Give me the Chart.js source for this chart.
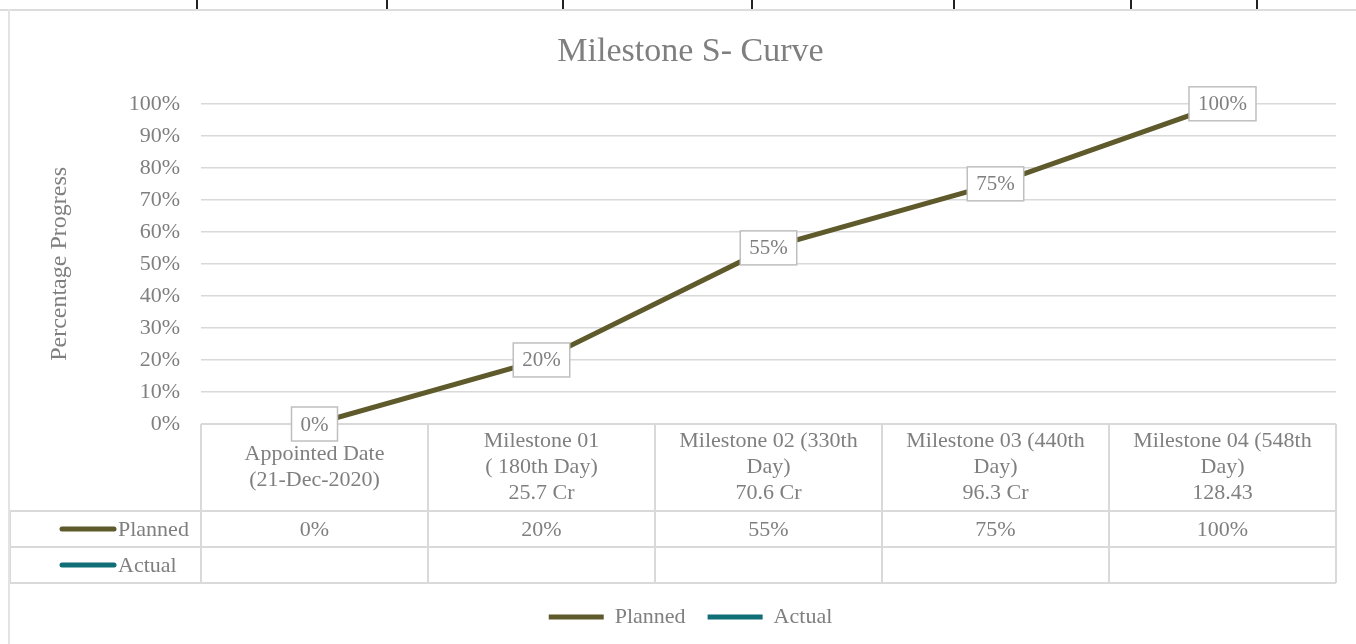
<!DOCTYPE html>
<html>
<head>
<meta charset="utf-8">
<script src="https://cdn.jsdelivr.net/npm/chart.js@4.4.1/dist/chart.umd.min.js"></script>
<style>
  body { margin: 0; background: #fff; }
  #wrap { position: relative; width: 1356px; height: 644px; }
  #strip { position: absolute; left: 0; top: 0; width: 1356px; height: 9px; border-bottom: 2px solid #dcdcdc; }
  #strip i { position: absolute; top: 0; width: 2px; height: 9px; background: #222; }
  #frame { position: absolute; left: 8px; top: 9px; width: 2px; height: 635px; background: #e3e3e3; }
</style>
</head>
<body>
<div id="wrap">
  <div id="strip"></div>
  <div id="frame"></div>
  <canvas id="chart"></canvas>
</div>
<script>
// Data
const categories = [
    ['Appointed Date', '(21-Dec-2020)'],
    ['Milestone 01', '( 180th Day)', '25.7 Cr'],
    ['Milestone 02 (330th', 'Day)', '70.6 Cr'],
    ['Milestone 03 (440th', 'Day)', '96.3 Cr'],
    ['Milestone 04 (548th', 'Day)', '128.43']
];
const planned = [0, 20, 55, 75, 100];
const actual = [null, null, null, null, null];
const yTicks = [0, 10, 20, 30, 40, 50, 60, 70, 80, 90, 100];
const stripTicks = [197, 387, 563, 752, 954, 1131, 1257];

const FONT = "'Liberation Serif', 'Times New Roman', serif";
const TEXT = '#7f7f7f';
const GRID = '#d9d9d9';
const OLIVE = '#5f5a2b';
const TEAL = '#0f6e76';

// top ruler ticks
const strip = document.getElementById('strip');
stripTicks.forEach(x => {
    const t = document.createElement('i');
    t.style.left = (x - 1) + 'px';
    strip.appendChild(t);
});

const pct = v => v + '%';

// data table under the plot
const dataTable = {
    id: 'dataTable',
    afterDraw(chart) {
        const ctx = chart.ctx;
        const xs = chart.scales.x;
        const top = chart.chartArea.bottom;
        const left = xs.left, right = xs.right;
        const colW = (right - left) / categories.length;
        const headB = top + 87, row1B = headB + 36, row2B = row1B + 36;
        const keyLeft = 10;

        ctx.save();
        ctx.strokeStyle = GRID;
        ctx.lineWidth = 2;
        ctx.beginPath();
        ctx.moveTo(left, top); ctx.lineTo(right, top);
        [headB, row1B, row2B].forEach(y => { ctx.moveTo(keyLeft, y); ctx.lineTo(right, y); });
        ctx.moveTo(keyLeft, headB); ctx.lineTo(keyLeft, row2B);
        for (let i = 0; i <= categories.length; i++) {
            const x = left + i * colW;
            ctx.moveTo(x, top); ctx.lineTo(x, row2B);
        }
        ctx.stroke();

        ctx.font = '22px ' + FONT;
        ctx.fillStyle = TEXT;
        ctx.textAlign = 'center';
        ctx.textBaseline = 'middle';
        const lh = 26;
        categories.forEach((lines, i) => {
            const cx = xs.getPixelForValue(i);
            const y0 = (top + headB) / 2 - (lines.length - 1) * lh / 2;
            lines.forEach((ln, j) => ctx.fillText(ln, cx, y0 + j * lh));
            ctx.fillText(pct(planned[i]), cx, (headB + row1B) / 2 + 1);
            if (actual[i] !== null) ctx.fillText(pct(actual[i]), cx, (row1B + row2B) / 2 + 1);
        });

        // legend keys inside table
        const rows = [[OLIVE, 'Planned', (headB + row1B) / 2], [TEAL, 'Actual', (row1B + row2B) / 2]];
        rows.forEach(([col, name, y]) => {
            ctx.strokeStyle = col;
            ctx.lineWidth = 5;
            ctx.lineCap = 'round';
            ctx.beginPath();
            ctx.moveTo(62, y); ctx.lineTo(114, y);
            ctx.stroke();
            ctx.textAlign = 'left';
            ctx.fillText(name, 118, y + 1);
        });
        ctx.restore();
    }
};

// boxed labels on the planned line (drawn after the table so they sit on top)
const pointLabels = {
    id: 'pointLabels',
    afterDraw(chart) {
        const ctx = chart.ctx;
        const meta = chart.getDatasetMeta(0);
        ctx.save();
        ctx.font = '21px ' + FONT;
        ctx.textAlign = 'center';
        ctx.textBaseline = 'middle';
        meta.data.forEach((pt, i) => {
            const txt = pct(planned[i]);
            const w = ctx.measureText(txt).width + 18;
            const h = 34;
            ctx.fillStyle = '#fff';
            ctx.fillRect(pt.x - w / 2, pt.y - h / 2, w, h);
            ctx.strokeStyle = '#bfbfbf';
            ctx.lineWidth = 1.5;
            ctx.strokeRect(pt.x - w / 2, pt.y - h / 2, w, h);
            ctx.fillStyle = TEXT;
            ctx.fillText(txt, pt.x, pt.y + 1);
        });
        ctx.restore();
    }
};

new Chart(document.getElementById('chart'), {
    type: 'line',
    data: {
        labels: categories,
        datasets: [{
            label: 'Planned',
            data: planned,
            borderColor: OLIVE,
            backgroundColor: OLIVE,
            borderWidth: 5,
            borderCapStyle: 'round',
            pointRadius: 0,
            tension: 0
        }, {
            label: 'Actual',
            data: actual,
            borderColor: TEAL,
            backgroundColor: TEAL,
            borderWidth: 5,
            borderCapStyle: 'round',
            pointRadius: 0
        }]
    },
    options: {
        responsive: true,
        maintainAspectRatio: false,
        animation: false,
        layout: { padding: { top: 32, left: 45, right: 20, bottom: 6 } },
        plugins: {
            title: {
                display: true,
                text: 'Milestone S- Curve',
                color: TEXT,
                font: { family: FONT, size: 34, weight: 'normal' },
                padding: { top: 0, bottom: 31 }
            },
            legend: {
                position: 'bottom',
                labels: {
                    usePointStyle: true,
                    pointStyle: 'line',
                    pointStyleWidth: 55,
                    color: TEXT,
                    font: { family: FONT, size: 22 },
                    padding: 22
                }
            },
            tooltip: { enabled: false }
        },
        scales: {
            x: {
                offset: true,
                grid: { display: false },
                border: { display: false },
                ticks: { display: false },
                afterFit: s => { s.height = 160; }
            },
            y: {
                min: 0,
                max: 100,
                afterBuildTicks: s => { s.ticks = yTicks.map(v => ({ value: v })); },
                grid: { color: GRID, lineWidth: 1.5, drawTicks: false },
                border: { display: false },
                ticks: {
                    color: TEXT,
                    font: { family: FONT, size: 22 },
                    padding: 21,
                    callback: v => pct(v)
                },
                title: {
                    display: true,
                    text: 'Percentage Progress',
                    color: TEXT,
                    font: { family: FONT, size: 24 },
                    padding: 0
                },
                afterFit: s => { s.width = 156; }
            }
        }
    },
    plugins: [dataTable, pointLabels]
});
</script>
</body>
</html>
